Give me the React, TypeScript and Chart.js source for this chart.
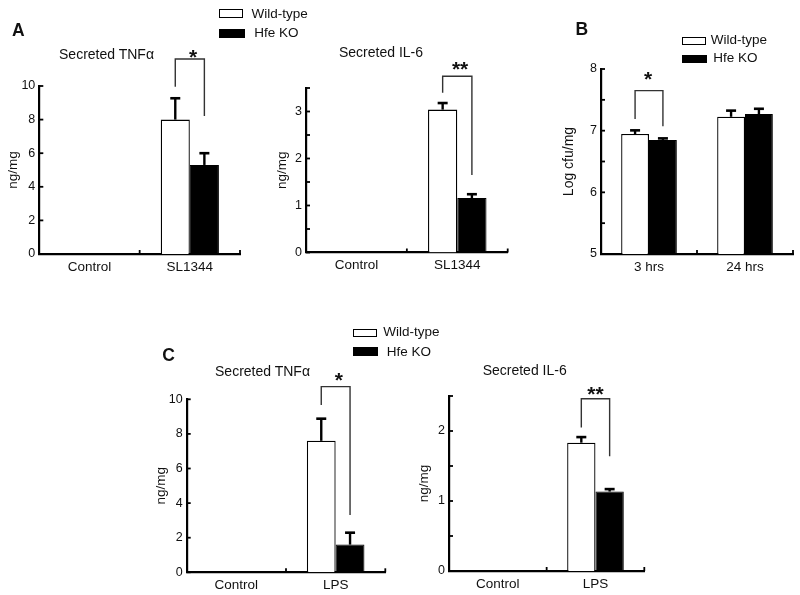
import React, { useEffect, useRef } from "react";
import { Chart, registerables } from "chart.js";
Chart.register(...registerables);

const FONT = "'Liberation Sans', Arial, Helvetica, sans-serif";

// ---------- Data ----------
// Panel A (left): Secreted TNFα, Salmonella SL1344
const aTnfCategories = ["Control", "SL1344"];
const aTnfWT = [0, 8.0];
const aTnfKO = [0, 5.3];
const aTnfWTErr = [0, 1.27];
const aTnfKOErr = [0, 0.7];
const aTnfSig = [11.61, 9.96, 8.21]; // bracket top, left leg end, right leg end

// Panel A (right): Secreted IL-6, SL1344
const aIl6Categories = ["Control", "SL1344"];
const aIl6WT = [0, 3.04];
const aIl6KO = [0, 1.16];
const aIl6WTErr = [0, 0.14];
const aIl6KOErr = [0, 0.08];
const aIl6Sig = [3.75, 3.4, 1.65];

// Panel B: bacterial load
const bCategories = ["3 hrs", "24 hrs"];
const bWT = [6.945, 7.225];
const bKO = [6.85, 7.27];
const bWTErr = [0.06, 0.1];
const bKOErr = [0.025, 0.085];
const bSig = [7.65, 7.19, 7.07];

// Panel C (left): Secreted TNFα, LPS
const cTnfCategories = ["Control", "LPS"];
const cTnfWT = [0, 7.6];
const cTnfKO = [0, 1.6];
const cTnfWTErr = [0, 1.28];
const cTnfKOErr = [0, 0.69];
const cTnfSig = [10.73, 9.67, 3.31];

// Panel C (right): Secreted IL-6, LPS
const cIl6Categories = ["Control", "LPS"];
const cIl6WT = [0, 1.833];
const cIl6KO = [0, 1.135];
const cIl6WTErr = [0, 0.08];
const cIl6KOErr = [0, 0.035];
const cIl6Sig = [2.46, 2.05, 1.64];

const seriesNames = ["Wild-type", "Hfe KO"];

type PanelCfg = {
  categories: string[];
  wt: number[];
  ko: number[];
  wtErr: number[];
  koErr: number[];
  sig: number[];
  sigIndex: number;
  sigLabel: string;
  yMin: number;
  yMax: number;
  yStep: number;
  yTitle: string;
  yTitleSize: number;
  left: number;
  right: number;
  top: number;
  bottom: number;
  titleX: number;
  starUp: number;
  starDx: number;
};

const panels: PanelCfg[] = [
  {
    categories: aTnfCategories, wt: aTnfWT, ko: aTnfKO, wtErr: aTnfWTErr, koErr: aTnfKOErr,
    sig: aTnfSig, sigIndex: 1, sigLabel: "*",
    yMin: 0, yMax: 10, yStep: 2, yTitle: "ng/mg", yTitleSize: 13.5,
    left: 39.3, right: 240, top: 86, bottom: 254, titleX: 13.3, starUp: 7.3, starDx: 3.3,
  },
  {
    categories: aIl6Categories, wt: aIl6WT, ko: aIl6KO, wtErr: aIl6WTErr, koErr: aIl6KOErr,
    sig: aIl6Sig, sigIndex: 1, sigLabel: "**",
    yMin: 0, yMax: 3.5, yStep: 0.5, yTitle: "ng/mg", yTitleSize: 13.5,
    left: 306, right: 507.7, top: 88, bottom: 252.5, titleX: 282, starUp: 12, starDx: 2.8,
  },
  {
    categories: bCategories, wt: bWT, ko: bKO, wtErr: bWTErr, koErr: bKOErr,
    sig: bSig, sigIndex: 0, sigLabel: "*",
    yMin: 5, yMax: 8, yStep: 0.5, yTitle: "Log cfu/mg", yTitleSize: 14,
    left: 601, right: 793, top: 69, bottom: 254, titleX: 569.5, starUp: 17, starDx: -1,
  },
  {
    categories: cTnfCategories, wt: cTnfWT, ko: cTnfKO, wtErr: cTnfWTErr, koErr: cTnfKOErr,
    sig: cTnfSig, sigIndex: 1, sigLabel: "*",
    yMin: 0, yMax: 10, yStep: 2, yTitle: "ng/mg", yTitleSize: 13.5,
    left: 186.7, right: 385.3, top: 399.3, bottom: 572.3, titleX: 161, starUp: 11.7, starDx: 3.3,
  },
  {
    categories: cIl6Categories, wt: cIl6WT, ko: cIl6KO, wtErr: cIl6WTErr, koErr: cIl6KOErr,
    sig: cIl6Sig, sigIndex: 1, sigLabel: "**",
    yMin: 0, yMax: 2.5, yStep: 0.5, yTitle: "ng/mg", yTitleSize: 13.5,
    left: 449, right: 644.3, top: 396, bottom: 571, titleX: 424, starUp: 10, starDx: 0,
  },
];

const STAR_SIZE = 21;

function decorPlugin(cfg: PanelCfg) {
  return {
    id: "decor",
    afterDraw(chart: any) {
      const ctx = chart.ctx;
      const x = chart.scales.x;
      const y = chart.scales.y;
      const area = chart.chartArea;
      ctx.save();
      ctx.strokeStyle = "#000";
      ctx.fillStyle = "#000";
      ctx.lineWidth = 1.8;
      for (const t of y.ticks) {
        const py = y.getPixelForValue(t.value);
        ctx.beginPath();
        ctx.moveTo(area.left, py);
        ctx.lineTo(area.left + 4, py);
        ctx.stroke();
      }
      for (let i = 0; i < cfg.categories.length; i++) {
        const px = x.getPixelForValue(i + 0.5);
        ctx.beginPath();
        ctx.moveTo(px, area.bottom);
        ctx.lineTo(px, area.bottom - 4);
        ctx.stroke();
      }
      const errs = [cfg.wtErr, cfg.koErr];
      const vals = [cfg.wt, cfg.ko];
      for (let d = 0; d < 2; d++) {
        const meta = chart.getDatasetMeta(d);
        for (let j = 0; j < vals[d].length; j++) {
          const e = errs[d][j];
          if (!e) continue;
          const bar = meta.data[j];
          const bx = bar.x;
          const yTop = y.getPixelForValue(vals[d][j] + e);
          ctx.lineWidth = 2.4;
          ctx.beginPath();
          ctx.moveTo(bx, bar.y);
          ctx.lineTo(bx, yTop);
          ctx.stroke();
          ctx.lineWidth = 2.6;
          ctx.beginPath();
          ctx.moveTo(bx - 5, yTop);
          ctx.lineTo(bx + 5, yTop);
          ctx.stroke();
        }
      }
      const j = cfg.sigIndex;
      const xl = chart.getDatasetMeta(0).data[j].x;
      const xr = chart.getDatasetMeta(1).data[j].x;
      const pt = y.getPixelForValue(cfg.sig[0]);
      const pl = y.getPixelForValue(cfg.sig[1]);
      const pr = y.getPixelForValue(cfg.sig[2]);
      ctx.strokeStyle = "#333";
      ctx.lineWidth = 1.4;
      ctx.beginPath();
      ctx.moveTo(xl, pl);
      ctx.lineTo(xl, pt);
      ctx.lineTo(xr, pt);
      ctx.lineTo(xr, pr);
      ctx.stroke();
      ctx.font = `bold ${STAR_SIZE}px ${FONT}`;
      ctx.textAlign = "center";
      ctx.textBaseline = "alphabetic";
      ctx.fillStyle = "#111";
      ctx.fillText(cfg.sigLabel, (xl + xr) / 2 + cfg.starDx, pt - cfg.starUp + 0.573 * STAR_SIZE);
      ctx.restore();
    },
  };
}

function BarPanel({ cfg }: { cfg: PanelCfg }) {
  const ref = useRef<HTMLCanvasElement>(null);
  const cx = Math.floor(cfg.left) - 40;
  const cy = Math.floor(cfg.top) - 50;
  const cw = Math.ceil(cfg.right) + 6 - cx;
  const ch = Math.ceil(cfg.bottom) + 30 - cy;
  useEffect(() => {
    const titleLH = cfg.yTitleSize * 1.2;
    const chart = new Chart(ref.current as HTMLCanvasElement, {
      type: "bar",
      data: {
        labels: cfg.categories,
        datasets: [
          {
            label: seriesNames[0],
            data: cfg.wt,
            backgroundColor: "#ffffff",
            borderColor: "#000000",
            borderWidth: 1.3,
            categoryPercentage: 0.58,
            barPercentage: 1,
          },
          {
            label: seriesNames[1],
            data: cfg.ko,
            backgroundColor: "#000000",
            borderColor: "#000000",
            borderWidth: 1,
            categoryPercentage: 0.58,
            barPercentage: 1,
          },
        ],
      },
      options: {
        responsive: false,
        animation: false,
        devicePixelRatio: 1,
        layout: {
          padding: { left: 0, top: cfg.top - cy, right: cx + cw - cfg.right, bottom: 0 },
        },
        plugins: { legend: { display: false }, tooltip: { enabled: false }, title: { display: false } },
        scales: {
          x: {
            type: "category",
            grid: { display: false, drawTicks: false },
            border: { display: true, color: "#000", width: 2.2 },
            ticks: { padding: 5, color: "#111", font: { family: FONT, size: 13.5 } },
            afterFit: (s: any) => {
              s.height = cy + ch - cfg.bottom;
            },
          },
          y: {
            type: "linear",
            min: cfg.yMin,
            max: cfg.yMax,
            grid: { display: false, drawTicks: false },
            border: { display: true, color: "#000", width: 2.2 },
            ticks: {
              stepSize: cfg.yStep,
              autoSkip: false,
              padding: 4,
              color: "#111",
              font: { family: FONT, size: 12.5 },
              callback: (v: any) => (Number.isInteger(v) ? String(v) : ""),
            },
            title: {
              display: true,
              text: cfg.yTitle,
              color: "#111",
              font: { family: FONT, size: cfg.yTitleSize },
              padding: { top: cfg.titleX - cx - titleLH / 2, bottom: 0 },
            },
            afterFit: (s: any) => {
              s.width = cfg.left - cx;
            },
          },
        },
      } as any,
      plugins: [decorPlugin(cfg)],
    });
    return () => chart.destroy();
  }, []);
  return (
    <canvas
      ref={ref}
      width={cw}
      height={ch}
      style={{ position: "absolute", left: cx, top: cy, width: cw, height: ch }}
    />
  );
}

function Txt({ x, base, size, bold, center, children }: any) {
  return (
    <div
      style={{
        position: "absolute",
        left: x,
        top: base - 0.8465 * size,
        fontSize: size,
        lineHeight: `${size}px`,
        fontWeight: bold ? "bold" : "normal",
        fontFamily: FONT,
        color: "#111",
        whiteSpace: "nowrap",
        transform: center ? "translateX(-50%)" : undefined,
      }}
    >
      {children}
    </div>
  );
}

function Box({ x, y, w, h, filled }: any) {
  return (
    <div
      style={{
        position: "absolute",
        left: x,
        top: y,
        width: w,
        height: h,
        boxSizing: "border-box",
        border: filled ? "none" : "1.5px solid #000",
        background: filled ? "#000" : "#fff",
      }}
    />
  );
}

function Legend({ wx, wy, ww, wh, wtx, wtb, kx, ky, kw, kh, ktx, ktb }: any) {
  return (
    <>
      <Box x={wx} y={wy} w={ww} h={wh} />
      <Txt x={wtx} base={wtb} size={13.5}>{seriesNames[0]}</Txt>
      <Box x={kx} y={ky} w={kw} h={kh} filled />
      <Txt x={ktx} base={ktb} size={13.5}>{seriesNames[1]}</Txt>
    </>
  );
}

export default function App() {
  return (
    <div
      style={{
        position: "fixed",
        left: 0,
        top: 0,
        width: 800,
        height: 595,
        background: "#fff",
        overflow: "hidden",
      }}
    >
      {panels.map((p, i) => (
        <BarPanel key={i} cfg={p} />
      ))}
      <Txt x={12} base={37} size={17.5} bold>A</Txt>
      <Txt x={575.5} base={36} size={17.5} bold>B</Txt>
      <Txt x={162.3} base={361.5} size={17.5} bold>C</Txt>

      <Txt x={106.5} base={58.5} size={14} center>Secreted TNFα</Txt>
      <Txt x={381} base={57.3} size={14} center>Secreted IL-6</Txt>
      <Txt x={262.5} base={376} size={14} center>Secreted TNFα</Txt>
      <Txt x={524.7} base={375} size={14} center>Secreted IL-6</Txt>

      <Legend wx={218.5} wy={9.3} ww={24} wh={8.4} wtx={251.5} wtb={18.3}
              kx={218.7} ky={29.3} kw={26.3} kh={8.4} ktx={254.3} ktb={37.5} />
      <Legend wx={682.3} wy={36.7} ww={23.7} wh={8} wtx={710.7} wtb={44.2}
              kx={682.3} ky={55} kw={24.4} kh={7.8} ktx={713.3} ktb={62.3} />
      <Legend wx={353.3} wy={329.3} ww={24} wh={7.8} wtx={383.3} wtb={336.8}
              kx={353.3} ky={347.3} kw={24.7} kh={8.7} ktx={386.7} ktb={356} />
    </div>
  );
}
